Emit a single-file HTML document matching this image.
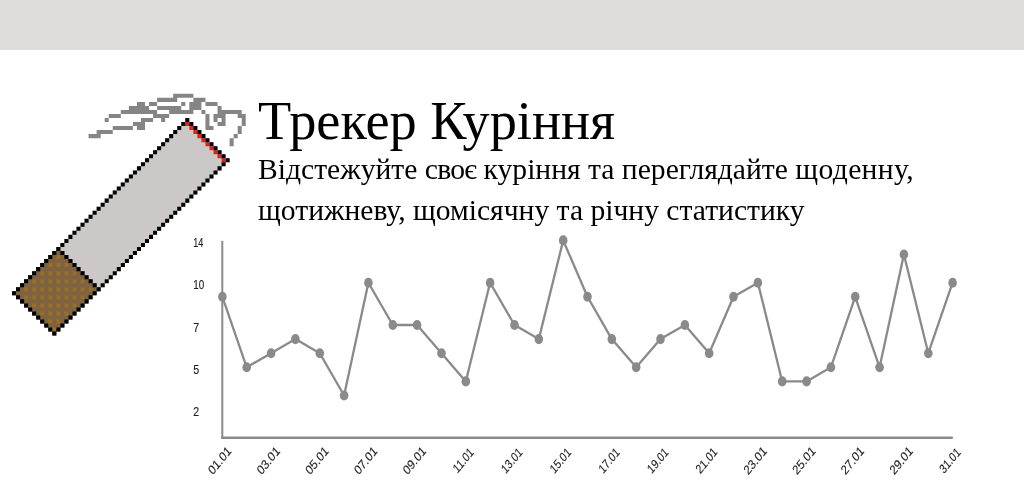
<!DOCTYPE html>
<html><head><meta charset="utf-8"><title>Трекер Куріння</title>
<style>
html,body{margin:0;padding:0;background:#fff;}
body{width:1024px;height:500px;position:relative;overflow:hidden;font-family:"Liberation Serif",serif;}
.banner{position:absolute;left:0;top:0;width:1024px;height:49.5px;background:#dddcda;}
.title,.sub{will-change:transform;}
.title{position:absolute;left:258px;top:91px;font-size:54.35px;line-height:60px;color:#000;white-space:nowrap;}
.sub{position:absolute;left:258px;top:148.9px;font-size:29.6px;line-height:40.5px;color:#000;white-space:nowrap;}
svg{position:absolute;left:0;top:0;will-change:transform;}
.lbl{font-family:"Liberation Sans",sans-serif;font-size:10.6px;fill:#222;stroke:#222;stroke-width:0.12px;}
</style></head><body>
<div class="banner"></div>
<svg width="1024" height="500" viewBox="0 0 1024 500">
<path fill="#858585" d="M173.20 93.82H193.35V97.85H173.20ZM157.08 97.85H177.23V101.88H157.08ZM193.35 97.85H205.44V101.88H193.35ZM136.93 101.88H144.99V105.91H136.93ZM149.02 101.88H157.08V105.91H149.02ZM181.26 101.88H185.29V105.91H181.26ZM189.32 101.88H201.41V105.91H189.32ZM205.44 101.88H217.53V105.91H205.44ZM128.87 105.91H149.02V109.94H128.87ZM157.08 105.91H181.26V109.94H157.08ZM189.32 105.91H201.41V109.94H189.32ZM217.53 105.91H221.56V109.94H217.53ZM120.81 109.94H157.08V113.97H120.81ZM169.17 109.94H193.35V113.97H169.17ZM201.41 109.94H205.44V113.97H201.41ZM217.53 109.94H241.71V113.97H217.53ZM108.72 113.97H120.81V118.00H108.72ZM153.05 113.97H169.17V118.00H153.05ZM205.44 113.97H209.47V118.00H205.44ZM213.50 113.97H225.59V118.00H213.50ZM237.68 113.97H245.74V118.00H237.68ZM104.69 118.00H108.72V122.03H104.69ZM140.96 118.00H153.05V122.03H140.96ZM161.11 118.00H165.14V122.03H161.11ZM205.44 118.00H209.47V122.03H205.44ZM213.50 118.00H217.53V122.03H213.50ZM221.56 118.00H225.59V122.03H221.56ZM241.71 118.00H245.74V122.03H241.71ZM132.90 122.03H144.99V126.06H132.90ZM205.44 122.03H209.47V126.06H205.44ZM217.53 122.03H225.59V126.06H217.53ZM241.71 122.03H245.74V126.06H241.71ZM112.75 126.06H132.90V130.09H112.75ZM136.93 126.06H144.99V130.09H136.93ZM205.44 126.06H213.50V130.09H205.44ZM237.68 126.06H241.71V130.09H237.68ZM96.63 130.09H112.75V134.12H96.63ZM237.68 130.09H241.71V134.12H237.68ZM88.57 134.12H100.66V138.15H88.57ZM233.65 134.12H237.68V138.15H233.65ZM229.62 138.15H233.65V142.18H229.62ZM229.62 142.18H233.65V146.21H229.62Z"/>
<path fill="#cdc8c8" d="M181.26 126.06H185.29V130.09H181.26ZM185.29 126.06H189.32V130.09H185.29ZM177.23 130.09H181.26V134.12H177.23ZM181.26 130.09H185.29V134.12H181.26ZM185.29 130.09H189.32V134.12H185.29ZM189.32 130.09H193.35V134.12H189.32ZM173.20 134.12H177.23V138.15H173.20ZM177.23 134.12H181.26V138.15H177.23ZM181.26 134.12H185.29V138.15H181.26ZM185.29 134.12H189.32V138.15H185.29ZM189.32 134.12H193.35V138.15H189.32ZM193.35 134.12H197.38V138.15H193.35ZM169.17 138.15H173.20V142.18H169.17ZM173.20 138.15H177.23V142.18H173.20ZM177.23 138.15H181.26V142.18H177.23ZM181.26 138.15H185.29V142.18H181.26ZM185.29 138.15H189.32V142.18H185.29ZM189.32 138.15H193.35V142.18H189.32ZM193.35 138.15H197.38V142.18H193.35ZM197.38 138.15H201.41V142.18H197.38ZM165.14 142.18H169.17V146.21H165.14ZM169.17 142.18H173.20V146.21H169.17ZM173.20 142.18H177.23V146.21H173.20ZM177.23 142.18H181.26V146.21H177.23ZM181.26 142.18H185.29V146.21H181.26ZM185.29 142.18H189.32V146.21H185.29ZM189.32 142.18H193.35V146.21H189.32ZM193.35 142.18H197.38V146.21H193.35ZM197.38 142.18H201.41V146.21H197.38ZM201.41 142.18H205.44V146.21H201.41ZM161.11 146.21H165.14V150.24H161.11ZM165.14 146.21H169.17V150.24H165.14ZM169.17 146.21H173.20V150.24H169.17ZM173.20 146.21H177.23V150.24H173.20ZM177.23 146.21H181.26V150.24H177.23ZM181.26 146.21H185.29V150.24H181.26ZM185.29 146.21H189.32V150.24H185.29ZM189.32 146.21H193.35V150.24H189.32ZM193.35 146.21H197.38V150.24H193.35ZM197.38 146.21H201.41V150.24H197.38ZM201.41 146.21H205.44V150.24H201.41ZM205.44 146.21H209.47V150.24H205.44ZM157.08 150.24H161.11V154.27H157.08ZM161.11 150.24H165.14V154.27H161.11ZM165.14 150.24H169.17V154.27H165.14ZM169.17 150.24H173.20V154.27H169.17ZM173.20 150.24H177.23V154.27H173.20ZM177.23 150.24H181.26V154.27H177.23ZM181.26 150.24H185.29V154.27H181.26ZM185.29 150.24H189.32V154.27H185.29ZM189.32 150.24H193.35V154.27H189.32ZM193.35 150.24H197.38V154.27H193.35ZM197.38 150.24H201.41V154.27H197.38ZM201.41 150.24H205.44V154.27H201.41ZM205.44 150.24H209.47V154.27H205.44ZM209.47 150.24H213.50V154.27H209.47ZM153.05 154.27H157.08V158.30H153.05ZM157.08 154.27H161.11V158.30H157.08ZM161.11 154.27H165.14V158.30H161.11ZM165.14 154.27H169.17V158.30H165.14ZM169.17 154.27H173.20V158.30H169.17ZM173.20 154.27H177.23V158.30H173.20ZM177.23 154.27H181.26V158.30H177.23ZM181.26 154.27H185.29V158.30H181.26ZM185.29 154.27H189.32V158.30H185.29ZM189.32 154.27H193.35V158.30H189.32ZM193.35 154.27H197.38V158.30H193.35ZM197.38 154.27H201.41V158.30H197.38ZM201.41 154.27H205.44V158.30H201.41ZM205.44 154.27H209.47V158.30H205.44ZM209.47 154.27H213.50V158.30H209.47ZM213.50 154.27H217.53V158.30H213.50ZM149.02 158.30H153.05V162.33H149.02ZM153.05 158.30H157.08V162.33H153.05ZM157.08 158.30H161.11V162.33H157.08ZM161.11 158.30H165.14V162.33H161.11ZM165.14 158.30H169.17V162.33H165.14ZM169.17 158.30H173.20V162.33H169.17ZM173.20 158.30H177.23V162.33H173.20ZM177.23 158.30H181.26V162.33H177.23ZM181.26 158.30H185.29V162.33H181.26ZM185.29 158.30H189.32V162.33H185.29ZM189.32 158.30H193.35V162.33H189.32ZM193.35 158.30H197.38V162.33H193.35ZM197.38 158.30H201.41V162.33H197.38ZM201.41 158.30H205.44V162.33H201.41ZM205.44 158.30H209.47V162.33H205.44ZM209.47 158.30H213.50V162.33H209.47ZM213.50 158.30H217.53V162.33H213.50ZM217.53 158.30H221.56V162.33H217.53ZM144.99 162.33H149.02V166.36H144.99ZM149.02 162.33H153.05V166.36H149.02ZM153.05 162.33H157.08V166.36H153.05ZM157.08 162.33H161.11V166.36H157.08ZM161.11 162.33H165.14V166.36H161.11ZM165.14 162.33H169.17V166.36H165.14ZM169.17 162.33H173.20V166.36H169.17ZM173.20 162.33H177.23V166.36H173.20ZM177.23 162.33H181.26V166.36H177.23ZM181.26 162.33H185.29V166.36H181.26ZM185.29 162.33H189.32V166.36H185.29ZM189.32 162.33H193.35V166.36H189.32ZM193.35 162.33H197.38V166.36H193.35ZM197.38 162.33H201.41V166.36H197.38ZM201.41 162.33H205.44V166.36H201.41ZM205.44 162.33H209.47V166.36H205.44ZM209.47 162.33H213.50V166.36H209.47ZM213.50 162.33H217.53V166.36H213.50ZM217.53 162.33H221.56V166.36H217.53ZM140.96 166.36H144.99V170.39H140.96ZM144.99 166.36H149.02V170.39H144.99ZM149.02 166.36H153.05V170.39H149.02ZM153.05 166.36H157.08V170.39H153.05ZM157.08 166.36H161.11V170.39H157.08ZM161.11 166.36H165.14V170.39H161.11ZM165.14 166.36H169.17V170.39H165.14ZM169.17 166.36H173.20V170.39H169.17ZM173.20 166.36H177.23V170.39H173.20ZM177.23 166.36H181.26V170.39H177.23ZM181.26 166.36H185.29V170.39H181.26ZM185.29 166.36H189.32V170.39H185.29ZM189.32 166.36H193.35V170.39H189.32ZM193.35 166.36H197.38V170.39H193.35ZM197.38 166.36H201.41V170.39H197.38ZM201.41 166.36H205.44V170.39H201.41ZM205.44 166.36H209.47V170.39H205.44ZM209.47 166.36H213.50V170.39H209.47ZM213.50 166.36H217.53V170.39H213.50ZM136.93 170.39H140.96V174.42H136.93ZM140.96 170.39H144.99V174.42H140.96ZM144.99 170.39H149.02V174.42H144.99ZM149.02 170.39H153.05V174.42H149.02ZM153.05 170.39H157.08V174.42H153.05ZM157.08 170.39H161.11V174.42H157.08ZM161.11 170.39H165.14V174.42H161.11ZM165.14 170.39H169.17V174.42H165.14ZM169.17 170.39H173.20V174.42H169.17ZM173.20 170.39H177.23V174.42H173.20ZM177.23 170.39H181.26V174.42H177.23ZM181.26 170.39H185.29V174.42H181.26ZM185.29 170.39H189.32V174.42H185.29ZM189.32 170.39H193.35V174.42H189.32ZM193.35 170.39H197.38V174.42H193.35ZM197.38 170.39H201.41V174.42H197.38ZM201.41 170.39H205.44V174.42H201.41ZM205.44 170.39H209.47V174.42H205.44ZM209.47 170.39H213.50V174.42H209.47ZM132.90 174.42H136.93V178.45H132.90ZM136.93 174.42H140.96V178.45H136.93ZM140.96 174.42H144.99V178.45H140.96ZM144.99 174.42H149.02V178.45H144.99ZM149.02 174.42H153.05V178.45H149.02ZM153.05 174.42H157.08V178.45H153.05ZM157.08 174.42H161.11V178.45H157.08ZM161.11 174.42H165.14V178.45H161.11ZM165.14 174.42H169.17V178.45H165.14ZM169.17 174.42H173.20V178.45H169.17ZM173.20 174.42H177.23V178.45H173.20ZM177.23 174.42H181.26V178.45H177.23ZM181.26 174.42H185.29V178.45H181.26ZM185.29 174.42H189.32V178.45H185.29ZM189.32 174.42H193.35V178.45H189.32ZM193.35 174.42H197.38V178.45H193.35ZM197.38 174.42H201.41V178.45H197.38ZM201.41 174.42H205.44V178.45H201.41ZM205.44 174.42H209.47V178.45H205.44ZM128.87 178.45H132.90V182.48H128.87ZM132.90 178.45H136.93V182.48H132.90ZM136.93 178.45H140.96V182.48H136.93ZM140.96 178.45H144.99V182.48H140.96ZM144.99 178.45H149.02V182.48H144.99ZM149.02 178.45H153.05V182.48H149.02ZM153.05 178.45H157.08V182.48H153.05ZM157.08 178.45H161.11V182.48H157.08ZM161.11 178.45H165.14V182.48H161.11ZM165.14 178.45H169.17V182.48H165.14ZM169.17 178.45H173.20V182.48H169.17ZM173.20 178.45H177.23V182.48H173.20ZM177.23 178.45H181.26V182.48H177.23ZM181.26 178.45H185.29V182.48H181.26ZM185.29 178.45H189.32V182.48H185.29ZM189.32 178.45H193.35V182.48H189.32ZM193.35 178.45H197.38V182.48H193.35ZM197.38 178.45H201.41V182.48H197.38ZM201.41 178.45H205.44V182.48H201.41ZM124.84 182.48H128.87V186.51H124.84ZM128.87 182.48H132.90V186.51H128.87ZM132.90 182.48H136.93V186.51H132.90ZM136.93 182.48H140.96V186.51H136.93ZM140.96 182.48H144.99V186.51H140.96ZM144.99 182.48H149.02V186.51H144.99ZM149.02 182.48H153.05V186.51H149.02ZM153.05 182.48H157.08V186.51H153.05ZM157.08 182.48H161.11V186.51H157.08ZM161.11 182.48H165.14V186.51H161.11ZM165.14 182.48H169.17V186.51H165.14ZM169.17 182.48H173.20V186.51H169.17ZM173.20 182.48H177.23V186.51H173.20ZM177.23 182.48H181.26V186.51H177.23ZM181.26 182.48H185.29V186.51H181.26ZM185.29 182.48H189.32V186.51H185.29ZM189.32 182.48H193.35V186.51H189.32ZM193.35 182.48H197.38V186.51H193.35ZM197.38 182.48H201.41V186.51H197.38ZM120.81 186.51H124.84V190.54H120.81ZM124.84 186.51H128.87V190.54H124.84ZM128.87 186.51H132.90V190.54H128.87ZM132.90 186.51H136.93V190.54H132.90ZM136.93 186.51H140.96V190.54H136.93ZM140.96 186.51H144.99V190.54H140.96ZM144.99 186.51H149.02V190.54H144.99ZM149.02 186.51H153.05V190.54H149.02ZM153.05 186.51H157.08V190.54H153.05ZM157.08 186.51H161.11V190.54H157.08ZM161.11 186.51H165.14V190.54H161.11ZM165.14 186.51H169.17V190.54H165.14ZM169.17 186.51H173.20V190.54H169.17ZM173.20 186.51H177.23V190.54H173.20ZM177.23 186.51H181.26V190.54H177.23ZM181.26 186.51H185.29V190.54H181.26ZM185.29 186.51H189.32V190.54H185.29ZM189.32 186.51H193.35V190.54H189.32ZM193.35 186.51H197.38V190.54H193.35ZM116.78 190.54H120.81V194.57H116.78ZM120.81 190.54H124.84V194.57H120.81ZM124.84 190.54H128.87V194.57H124.84ZM128.87 190.54H132.90V194.57H128.87ZM132.90 190.54H136.93V194.57H132.90ZM136.93 190.54H140.96V194.57H136.93ZM140.96 190.54H144.99V194.57H140.96ZM144.99 190.54H149.02V194.57H144.99ZM149.02 190.54H153.05V194.57H149.02ZM153.05 190.54H157.08V194.57H153.05ZM157.08 190.54H161.11V194.57H157.08ZM161.11 190.54H165.14V194.57H161.11ZM165.14 190.54H169.17V194.57H165.14ZM169.17 190.54H173.20V194.57H169.17ZM173.20 190.54H177.23V194.57H173.20ZM177.23 190.54H181.26V194.57H177.23ZM181.26 190.54H185.29V194.57H181.26ZM185.29 190.54H189.32V194.57H185.29ZM189.32 190.54H193.35V194.57H189.32ZM112.75 194.57H116.78V198.60H112.75ZM116.78 194.57H120.81V198.60H116.78ZM120.81 194.57H124.84V198.60H120.81ZM124.84 194.57H128.87V198.60H124.84ZM128.87 194.57H132.90V198.60H128.87ZM132.90 194.57H136.93V198.60H132.90ZM136.93 194.57H140.96V198.60H136.93ZM140.96 194.57H144.99V198.60H140.96ZM144.99 194.57H149.02V198.60H144.99ZM149.02 194.57H153.05V198.60H149.02ZM153.05 194.57H157.08V198.60H153.05ZM157.08 194.57H161.11V198.60H157.08ZM161.11 194.57H165.14V198.60H161.11ZM165.14 194.57H169.17V198.60H165.14ZM169.17 194.57H173.20V198.60H169.17ZM173.20 194.57H177.23V198.60H173.20ZM177.23 194.57H181.26V198.60H177.23ZM181.26 194.57H185.29V198.60H181.26ZM185.29 194.57H189.32V198.60H185.29ZM108.72 198.60H112.75V202.63H108.72ZM112.75 198.60H116.78V202.63H112.75ZM116.78 198.60H120.81V202.63H116.78ZM120.81 198.60H124.84V202.63H120.81ZM124.84 198.60H128.87V202.63H124.84ZM128.87 198.60H132.90V202.63H128.87ZM132.90 198.60H136.93V202.63H132.90ZM136.93 198.60H140.96V202.63H136.93ZM140.96 198.60H144.99V202.63H140.96ZM144.99 198.60H149.02V202.63H144.99ZM149.02 198.60H153.05V202.63H149.02ZM153.05 198.60H157.08V202.63H153.05ZM157.08 198.60H161.11V202.63H157.08ZM161.11 198.60H165.14V202.63H161.11ZM165.14 198.60H169.17V202.63H165.14ZM169.17 198.60H173.20V202.63H169.17ZM173.20 198.60H177.23V202.63H173.20ZM177.23 198.60H181.26V202.63H177.23ZM181.26 198.60H185.29V202.63H181.26ZM104.69 202.63H108.72V206.66H104.69ZM108.72 202.63H112.75V206.66H108.72ZM112.75 202.63H116.78V206.66H112.75ZM116.78 202.63H120.81V206.66H116.78ZM120.81 202.63H124.84V206.66H120.81ZM124.84 202.63H128.87V206.66H124.84ZM128.87 202.63H132.90V206.66H128.87ZM132.90 202.63H136.93V206.66H132.90ZM136.93 202.63H140.96V206.66H136.93ZM140.96 202.63H144.99V206.66H140.96ZM144.99 202.63H149.02V206.66H144.99ZM149.02 202.63H153.05V206.66H149.02ZM153.05 202.63H157.08V206.66H153.05ZM157.08 202.63H161.11V206.66H157.08ZM161.11 202.63H165.14V206.66H161.11ZM165.14 202.63H169.17V206.66H165.14ZM169.17 202.63H173.20V206.66H169.17ZM173.20 202.63H177.23V206.66H173.20ZM177.23 202.63H181.26V206.66H177.23ZM100.66 206.66H104.69V210.69H100.66ZM104.69 206.66H108.72V210.69H104.69ZM108.72 206.66H112.75V210.69H108.72ZM112.75 206.66H116.78V210.69H112.75ZM116.78 206.66H120.81V210.69H116.78ZM120.81 206.66H124.84V210.69H120.81ZM124.84 206.66H128.87V210.69H124.84ZM128.87 206.66H132.90V210.69H128.87ZM132.90 206.66H136.93V210.69H132.90ZM136.93 206.66H140.96V210.69H136.93ZM140.96 206.66H144.99V210.69H140.96ZM144.99 206.66H149.02V210.69H144.99ZM149.02 206.66H153.05V210.69H149.02ZM153.05 206.66H157.08V210.69H153.05ZM157.08 206.66H161.11V210.69H157.08ZM161.11 206.66H165.14V210.69H161.11ZM165.14 206.66H169.17V210.69H165.14ZM169.17 206.66H173.20V210.69H169.17ZM173.20 206.66H177.23V210.69H173.20ZM96.63 210.69H100.66V214.72H96.63ZM100.66 210.69H104.69V214.72H100.66ZM104.69 210.69H108.72V214.72H104.69ZM108.72 210.69H112.75V214.72H108.72ZM112.75 210.69H116.78V214.72H112.75ZM116.78 210.69H120.81V214.72H116.78ZM120.81 210.69H124.84V214.72H120.81ZM124.84 210.69H128.87V214.72H124.84ZM128.87 210.69H132.90V214.72H128.87ZM132.90 210.69H136.93V214.72H132.90ZM136.93 210.69H140.96V214.72H136.93ZM140.96 210.69H144.99V214.72H140.96ZM144.99 210.69H149.02V214.72H144.99ZM149.02 210.69H153.05V214.72H149.02ZM153.05 210.69H157.08V214.72H153.05ZM157.08 210.69H161.11V214.72H157.08ZM161.11 210.69H165.14V214.72H161.11ZM165.14 210.69H169.17V214.72H165.14ZM169.17 210.69H173.20V214.72H169.17ZM92.60 214.72H96.63V218.75H92.60ZM96.63 214.72H100.66V218.75H96.63ZM100.66 214.72H104.69V218.75H100.66ZM104.69 214.72H108.72V218.75H104.69ZM108.72 214.72H112.75V218.75H108.72ZM112.75 214.72H116.78V218.75H112.75ZM116.78 214.72H120.81V218.75H116.78ZM120.81 214.72H124.84V218.75H120.81ZM124.84 214.72H128.87V218.75H124.84ZM128.87 214.72H132.90V218.75H128.87ZM132.90 214.72H136.93V218.75H132.90ZM136.93 214.72H140.96V218.75H136.93ZM140.96 214.72H144.99V218.75H140.96ZM144.99 214.72H149.02V218.75H144.99ZM149.02 214.72H153.05V218.75H149.02ZM153.05 214.72H157.08V218.75H153.05ZM157.08 214.72H161.11V218.75H157.08ZM161.11 214.72H165.14V218.75H161.11ZM165.14 214.72H169.17V218.75H165.14ZM88.57 218.75H92.60V222.78H88.57ZM92.60 218.75H96.63V222.78H92.60ZM96.63 218.75H100.66V222.78H96.63ZM100.66 218.75H104.69V222.78H100.66ZM104.69 218.75H108.72V222.78H104.69ZM108.72 218.75H112.75V222.78H108.72ZM112.75 218.75H116.78V222.78H112.75ZM116.78 218.75H120.81V222.78H116.78ZM120.81 218.75H124.84V222.78H120.81ZM124.84 218.75H128.87V222.78H124.84ZM128.87 218.75H132.90V222.78H128.87ZM132.90 218.75H136.93V222.78H132.90ZM136.93 218.75H140.96V222.78H136.93ZM140.96 218.75H144.99V222.78H140.96ZM144.99 218.75H149.02V222.78H144.99ZM149.02 218.75H153.05V222.78H149.02ZM153.05 218.75H157.08V222.78H153.05ZM157.08 218.75H161.11V222.78H157.08ZM161.11 218.75H165.14V222.78H161.11ZM84.54 222.78H88.57V226.81H84.54ZM88.57 222.78H92.60V226.81H88.57ZM92.60 222.78H96.63V226.81H92.60ZM96.63 222.78H100.66V226.81H96.63ZM100.66 222.78H104.69V226.81H100.66ZM104.69 222.78H108.72V226.81H104.69ZM108.72 222.78H112.75V226.81H108.72ZM112.75 222.78H116.78V226.81H112.75ZM116.78 222.78H120.81V226.81H116.78ZM120.81 222.78H124.84V226.81H120.81ZM124.84 222.78H128.87V226.81H124.84ZM128.87 222.78H132.90V226.81H128.87ZM132.90 222.78H136.93V226.81H132.90ZM136.93 222.78H140.96V226.81H136.93ZM140.96 222.78H144.99V226.81H140.96ZM144.99 222.78H149.02V226.81H144.99ZM149.02 222.78H153.05V226.81H149.02ZM153.05 222.78H157.08V226.81H153.05ZM157.08 222.78H161.11V226.81H157.08ZM80.51 226.81H84.54V230.84H80.51ZM84.54 226.81H88.57V230.84H84.54ZM88.57 226.81H92.60V230.84H88.57ZM92.60 226.81H96.63V230.84H92.60ZM96.63 226.81H100.66V230.84H96.63ZM100.66 226.81H104.69V230.84H100.66ZM104.69 226.81H108.72V230.84H104.69ZM108.72 226.81H112.75V230.84H108.72ZM112.75 226.81H116.78V230.84H112.75ZM116.78 226.81H120.81V230.84H116.78ZM120.81 226.81H124.84V230.84H120.81ZM124.84 226.81H128.87V230.84H124.84ZM128.87 226.81H132.90V230.84H128.87ZM132.90 226.81H136.93V230.84H132.90ZM136.93 226.81H140.96V230.84H136.93ZM140.96 226.81H144.99V230.84H140.96ZM144.99 226.81H149.02V230.84H144.99ZM149.02 226.81H153.05V230.84H149.02ZM153.05 226.81H157.08V230.84H153.05ZM76.48 230.84H80.51V234.87H76.48ZM80.51 230.84H84.54V234.87H80.51ZM84.54 230.84H88.57V234.87H84.54ZM88.57 230.84H92.60V234.87H88.57ZM92.60 230.84H96.63V234.87H92.60ZM96.63 230.84H100.66V234.87H96.63ZM100.66 230.84H104.69V234.87H100.66ZM104.69 230.84H108.72V234.87H104.69ZM108.72 230.84H112.75V234.87H108.72ZM112.75 230.84H116.78V234.87H112.75ZM116.78 230.84H120.81V234.87H116.78ZM120.81 230.84H124.84V234.87H120.81ZM124.84 230.84H128.87V234.87H124.84ZM128.87 230.84H132.90V234.87H128.87ZM132.90 230.84H136.93V234.87H132.90ZM136.93 230.84H140.96V234.87H136.93ZM140.96 230.84H144.99V234.87H140.96ZM144.99 230.84H149.02V234.87H144.99ZM149.02 230.84H153.05V234.87H149.02ZM72.45 234.87H76.48V238.90H72.45ZM76.48 234.87H80.51V238.90H76.48ZM80.51 234.87H84.54V238.90H80.51ZM84.54 234.87H88.57V238.90H84.54ZM88.57 234.87H92.60V238.90H88.57ZM92.60 234.87H96.63V238.90H92.60ZM96.63 234.87H100.66V238.90H96.63ZM100.66 234.87H104.69V238.90H100.66ZM104.69 234.87H108.72V238.90H104.69ZM108.72 234.87H112.75V238.90H108.72ZM112.75 234.87H116.78V238.90H112.75ZM116.78 234.87H120.81V238.90H116.78ZM120.81 234.87H124.84V238.90H120.81ZM124.84 234.87H128.87V238.90H124.84ZM128.87 234.87H132.90V238.90H128.87ZM132.90 234.87H136.93V238.90H132.90ZM136.93 234.87H140.96V238.90H136.93ZM140.96 234.87H144.99V238.90H140.96ZM144.99 234.87H149.02V238.90H144.99ZM68.42 238.90H72.45V242.93H68.42ZM72.45 238.90H76.48V242.93H72.45ZM76.48 238.90H80.51V242.93H76.48ZM80.51 238.90H84.54V242.93H80.51ZM84.54 238.90H88.57V242.93H84.54ZM88.57 238.90H92.60V242.93H88.57ZM92.60 238.90H96.63V242.93H92.60ZM96.63 238.90H100.66V242.93H96.63ZM100.66 238.90H104.69V242.93H100.66ZM104.69 238.90H108.72V242.93H104.69ZM108.72 238.90H112.75V242.93H108.72ZM112.75 238.90H116.78V242.93H112.75ZM116.78 238.90H120.81V242.93H116.78ZM120.81 238.90H124.84V242.93H120.81ZM124.84 238.90H128.87V242.93H124.84ZM128.87 238.90H132.90V242.93H128.87ZM132.90 238.90H136.93V242.93H132.90ZM136.93 238.90H140.96V242.93H136.93ZM140.96 238.90H144.99V242.93H140.96ZM64.39 242.93H68.42V246.96H64.39ZM68.42 242.93H72.45V246.96H68.42ZM72.45 242.93H76.48V246.96H72.45ZM76.48 242.93H80.51V246.96H76.48ZM80.51 242.93H84.54V246.96H80.51ZM84.54 242.93H88.57V246.96H84.54ZM88.57 242.93H92.60V246.96H88.57ZM92.60 242.93H96.63V246.96H92.60ZM96.63 242.93H100.66V246.96H96.63ZM100.66 242.93H104.69V246.96H100.66ZM104.69 242.93H108.72V246.96H104.69ZM108.72 242.93H112.75V246.96H108.72ZM112.75 242.93H116.78V246.96H112.75ZM116.78 242.93H120.81V246.96H116.78ZM120.81 242.93H124.84V246.96H120.81ZM124.84 242.93H128.87V246.96H124.84ZM128.87 242.93H132.90V246.96H128.87ZM132.90 242.93H136.93V246.96H132.90ZM136.93 242.93H140.96V246.96H136.93ZM60.36 246.96H64.39V250.99H60.36ZM64.39 246.96H68.42V250.99H64.39ZM68.42 246.96H72.45V250.99H68.42ZM72.45 246.96H76.48V250.99H72.45ZM76.48 246.96H80.51V250.99H76.48ZM80.51 246.96H84.54V250.99H80.51ZM84.54 246.96H88.57V250.99H84.54ZM88.57 246.96H92.60V250.99H88.57ZM92.60 246.96H96.63V250.99H92.60ZM96.63 246.96H100.66V250.99H96.63ZM100.66 246.96H104.69V250.99H100.66ZM104.69 246.96H108.72V250.99H104.69ZM108.72 246.96H112.75V250.99H108.72ZM112.75 246.96H116.78V250.99H112.75ZM116.78 246.96H120.81V250.99H116.78ZM120.81 246.96H124.84V250.99H120.81ZM124.84 246.96H128.87V250.99H124.84ZM128.87 246.96H132.90V250.99H128.87ZM132.90 246.96H136.93V250.99H132.90ZM64.39 250.99H68.42V255.02H64.39ZM68.42 250.99H72.45V255.02H68.42ZM72.45 250.99H76.48V255.02H72.45ZM76.48 250.99H80.51V255.02H76.48ZM80.51 250.99H84.54V255.02H80.51ZM84.54 250.99H88.57V255.02H84.54ZM88.57 250.99H92.60V255.02H88.57ZM92.60 250.99H96.63V255.02H92.60ZM96.63 250.99H100.66V255.02H96.63ZM100.66 250.99H104.69V255.02H100.66ZM104.69 250.99H108.72V255.02H104.69ZM108.72 250.99H112.75V255.02H108.72ZM112.75 250.99H116.78V255.02H112.75ZM116.78 250.99H120.81V255.02H116.78ZM120.81 250.99H124.84V255.02H120.81ZM124.84 250.99H128.87V255.02H124.84ZM128.87 250.99H132.90V255.02H128.87ZM68.42 255.02H72.45V259.05H68.42ZM72.45 255.02H76.48V259.05H72.45ZM76.48 255.02H80.51V259.05H76.48ZM80.51 255.02H84.54V259.05H80.51ZM84.54 255.02H88.57V259.05H84.54ZM88.57 255.02H92.60V259.05H88.57ZM92.60 255.02H96.63V259.05H92.60ZM96.63 255.02H100.66V259.05H96.63ZM100.66 255.02H104.69V259.05H100.66ZM104.69 255.02H108.72V259.05H104.69ZM108.72 255.02H112.75V259.05H108.72ZM112.75 255.02H116.78V259.05H112.75ZM116.78 255.02H120.81V259.05H116.78ZM120.81 255.02H124.84V259.05H120.81ZM124.84 255.02H128.87V259.05H124.84ZM72.45 259.05H76.48V263.08H72.45ZM76.48 259.05H80.51V263.08H76.48ZM80.51 259.05H84.54V263.08H80.51ZM84.54 259.05H88.57V263.08H84.54ZM88.57 259.05H92.60V263.08H88.57ZM92.60 259.05H96.63V263.08H92.60ZM96.63 259.05H100.66V263.08H96.63ZM100.66 259.05H104.69V263.08H100.66ZM104.69 259.05H108.72V263.08H104.69ZM108.72 259.05H112.75V263.08H108.72ZM112.75 259.05H116.78V263.08H112.75ZM116.78 259.05H120.81V263.08H116.78ZM120.81 259.05H124.84V263.08H120.81ZM76.48 263.08H80.51V267.11H76.48ZM80.51 263.08H84.54V267.11H80.51ZM84.54 263.08H88.57V267.11H84.54ZM88.57 263.08H92.60V267.11H88.57ZM92.60 263.08H96.63V267.11H92.60ZM96.63 263.08H100.66V267.11H96.63ZM100.66 263.08H104.69V267.11H100.66ZM104.69 263.08H108.72V267.11H104.69ZM108.72 263.08H112.75V267.11H108.72ZM112.75 263.08H116.78V267.11H112.75ZM116.78 263.08H120.81V267.11H116.78ZM80.51 267.11H84.54V271.14H80.51ZM84.54 267.11H88.57V271.14H84.54ZM88.57 267.11H92.60V271.14H88.57ZM92.60 267.11H96.63V271.14H92.60ZM96.63 267.11H100.66V271.14H96.63ZM100.66 267.11H104.69V271.14H100.66ZM104.69 267.11H108.72V271.14H104.69ZM108.72 267.11H112.75V271.14H108.72ZM112.75 267.11H116.78V271.14H112.75ZM84.54 271.14H88.57V275.17H84.54ZM88.57 271.14H92.60V275.17H88.57ZM92.60 271.14H96.63V275.17H92.60ZM96.63 271.14H100.66V275.17H96.63ZM100.66 271.14H104.69V275.17H100.66ZM104.69 271.14H108.72V275.17H104.69ZM108.72 271.14H112.75V275.17H108.72ZM88.57 275.17H92.60V279.20H88.57ZM92.60 275.17H96.63V279.20H92.60ZM96.63 275.17H100.66V279.20H96.63ZM100.66 275.17H104.69V279.20H100.66ZM104.69 275.17H108.72V279.20H104.69ZM92.60 279.20H96.63V283.23H92.60ZM96.63 279.20H100.66V283.23H96.63ZM100.66 279.20H104.69V283.23H100.66ZM96.63 283.23H100.66V287.26H96.63ZM185.29 122.03H189.32V126.06H185.29ZM189.32 126.06H193.35V130.09H189.32ZM193.35 130.09H197.38V134.12H193.35ZM197.38 134.12H201.41V138.15H197.38ZM201.41 138.15H205.44V142.18H201.41ZM205.44 142.18H209.47V146.21H205.44ZM209.47 146.21H213.50V150.24H209.47ZM213.50 150.24H217.53V154.27H213.50ZM217.53 154.27H221.56V158.30H217.53ZM221.56 158.30H225.59V162.33H221.56ZM185.29 118.00H189.32V122.03H185.29ZM181.26 122.03H185.29V126.06H181.26ZM189.32 122.03H193.35V126.06H189.32ZM177.23 126.06H181.26V130.09H177.23ZM193.35 126.06H197.38V130.09H193.35ZM173.20 130.09H177.23V134.12H173.20ZM197.38 130.09H201.41V134.12H197.38ZM169.17 134.12H173.20V138.15H169.17ZM201.41 134.12H205.44V138.15H201.41ZM165.14 138.15H169.17V142.18H165.14ZM205.44 138.15H209.47V142.18H205.44ZM161.11 142.18H165.14V146.21H161.11ZM209.47 142.18H213.50V146.21H209.47ZM157.08 146.21H161.11V150.24H157.08ZM213.50 146.21H217.53V150.24H213.50ZM153.05 150.24H157.08V154.27H153.05ZM217.53 150.24H221.56V154.27H217.53ZM149.02 154.27H153.05V158.30H149.02ZM221.56 154.27H225.59V158.30H221.56ZM144.99 158.30H149.02V162.33H144.99ZM225.59 158.30H229.62V162.33H225.59ZM140.96 162.33H144.99V166.36H140.96ZM221.56 162.33H225.59V166.36H221.56ZM136.93 166.36H140.96V170.39H136.93ZM217.53 166.36H221.56V170.39H217.53ZM132.90 170.39H136.93V174.42H132.90ZM213.50 170.39H217.53V174.42H213.50ZM128.87 174.42H132.90V178.45H128.87ZM209.47 174.42H213.50V178.45H209.47ZM124.84 178.45H128.87V182.48H124.84ZM205.44 178.45H209.47V182.48H205.44ZM120.81 182.48H124.84V186.51H120.81ZM201.41 182.48H205.44V186.51H201.41ZM116.78 186.51H120.81V190.54H116.78ZM197.38 186.51H201.41V190.54H197.38ZM112.75 190.54H116.78V194.57H112.75ZM193.35 190.54H197.38V194.57H193.35ZM108.72 194.57H112.75V198.60H108.72ZM189.32 194.57H193.35V198.60H189.32ZM104.69 198.60H108.72V202.63H104.69ZM185.29 198.60H189.32V202.63H185.29ZM100.66 202.63H104.69V206.66H100.66ZM181.26 202.63H185.29V206.66H181.26ZM96.63 206.66H100.66V210.69H96.63ZM177.23 206.66H181.26V210.69H177.23ZM92.60 210.69H96.63V214.72H92.60ZM173.20 210.69H177.23V214.72H173.20ZM88.57 214.72H92.60V218.75H88.57ZM169.17 214.72H173.20V218.75H169.17ZM84.54 218.75H88.57V222.78H84.54ZM165.14 218.75H169.17V222.78H165.14ZM80.51 222.78H84.54V226.81H80.51ZM161.11 222.78H165.14V226.81H161.11ZM76.48 226.81H80.51V230.84H76.48ZM157.08 226.81H161.11V230.84H157.08ZM72.45 230.84H76.48V234.87H72.45ZM153.05 230.84H157.08V234.87H153.05ZM68.42 234.87H72.45V238.90H68.42ZM149.02 234.87H153.05V238.90H149.02ZM64.39 238.90H68.42V242.93H64.39ZM144.99 238.90H149.02V242.93H144.99ZM60.36 242.93H64.39V246.96H60.36ZM140.96 242.93H144.99V246.96H140.96ZM56.33 246.96H60.36V250.99H56.33ZM136.93 246.96H140.96V250.99H136.93ZM52.30 250.99H56.33V255.02H52.30ZM60.36 250.99H64.39V255.02H60.36ZM132.90 250.99H136.93V255.02H132.90ZM48.27 255.02H52.30V259.05H48.27ZM64.39 255.02H68.42V259.05H64.39ZM128.87 255.02H132.90V259.05H128.87ZM44.24 259.05H48.27V263.08H44.24ZM68.42 259.05H72.45V263.08H68.42ZM124.84 259.05H128.87V263.08H124.84ZM40.21 263.08H44.24V267.11H40.21ZM72.45 263.08H76.48V267.11H72.45ZM120.81 263.08H124.84V267.11H120.81ZM36.18 267.11H40.21V271.14H36.18ZM76.48 267.11H80.51V271.14H76.48ZM116.78 267.11H120.81V271.14H116.78ZM32.15 271.14H36.18V275.17H32.15ZM80.51 271.14H84.54V275.17H80.51ZM112.75 271.14H116.78V275.17H112.75ZM28.12 275.17H32.15V279.20H28.12ZM84.54 275.17H88.57V279.20H84.54ZM108.72 275.17H112.75V279.20H108.72ZM24.09 279.20H28.12V283.23H24.09ZM88.57 279.20H92.60V283.23H88.57ZM104.69 279.20H108.72V283.23H104.69ZM20.06 283.23H24.09V287.26H20.06ZM92.60 283.23H96.63V287.26H92.60ZM100.66 283.23H104.69V287.26H100.66ZM16.03 287.26H20.06V291.29H16.03ZM96.63 287.26H100.66V291.29H96.63ZM12.00 291.29H16.03V295.32H12.00ZM92.60 291.29H96.63V295.32H92.60ZM16.03 295.32H20.06V299.35H16.03ZM88.57 295.32H92.60V299.35H88.57ZM20.06 299.35H24.09V303.38H20.06ZM84.54 299.35H88.57V303.38H84.54ZM24.09 303.38H28.12V307.41H24.09ZM80.51 303.38H84.54V307.41H80.51ZM28.12 307.41H32.15V311.44H28.12ZM76.48 307.41H80.51V311.44H76.48ZM32.15 311.44H36.18V315.47H32.15ZM72.45 311.44H76.48V315.47H72.45ZM36.18 315.47H40.21V319.50H36.18ZM68.42 315.47H72.45V319.50H68.42ZM40.21 319.50H44.24V323.53H40.21ZM64.39 319.50H68.42V323.53H64.39ZM44.24 323.53H48.27V327.56H44.24ZM60.36 323.53H64.39V327.56H60.36ZM48.27 327.56H52.30V331.59H48.27ZM56.33 327.56H60.36V331.59H56.33ZM52.30 331.59H56.33V335.62H52.30Z"/>
<path fill="#7e6340" d="M56.33 250.99H60.36V255.02H56.33ZM52.30 255.02H56.33V259.05H52.30ZM60.36 255.02H64.39V259.05H60.36ZM48.27 259.05H52.30V263.08H48.27ZM52.30 259.05H56.33V263.08H52.30ZM56.33 259.05H60.36V263.08H56.33ZM60.36 259.05H64.39V263.08H60.36ZM64.39 259.05H68.42V263.08H64.39ZM44.24 263.08H48.27V267.11H44.24ZM52.30 263.08H56.33V267.11H52.30ZM60.36 263.08H64.39V267.11H60.36ZM68.42 263.08H72.45V267.11H68.42ZM40.21 267.11H44.24V271.14H40.21ZM44.24 267.11H48.27V271.14H44.24ZM48.27 267.11H52.30V271.14H48.27ZM52.30 267.11H56.33V271.14H52.30ZM56.33 267.11H60.36V271.14H56.33ZM60.36 267.11H64.39V271.14H60.36ZM64.39 267.11H68.42V271.14H64.39ZM68.42 267.11H72.45V271.14H68.42ZM72.45 267.11H76.48V271.14H72.45ZM36.18 271.14H40.21V275.17H36.18ZM44.24 271.14H48.27V275.17H44.24ZM52.30 271.14H56.33V275.17H52.30ZM60.36 271.14H64.39V275.17H60.36ZM68.42 271.14H72.45V275.17H68.42ZM76.48 271.14H80.51V275.17H76.48ZM32.15 275.17H36.18V279.20H32.15ZM36.18 275.17H40.21V279.20H36.18ZM40.21 275.17H44.24V279.20H40.21ZM44.24 275.17H48.27V279.20H44.24ZM48.27 275.17H52.30V279.20H48.27ZM52.30 275.17H56.33V279.20H52.30ZM56.33 275.17H60.36V279.20H56.33ZM60.36 275.17H64.39V279.20H60.36ZM64.39 275.17H68.42V279.20H64.39ZM68.42 275.17H72.45V279.20H68.42ZM72.45 275.17H76.48V279.20H72.45ZM76.48 275.17H80.51V279.20H76.48ZM80.51 275.17H84.54V279.20H80.51ZM28.12 279.20H32.15V283.23H28.12ZM36.18 279.20H40.21V283.23H36.18ZM44.24 279.20H48.27V283.23H44.24ZM52.30 279.20H56.33V283.23H52.30ZM60.36 279.20H64.39V283.23H60.36ZM68.42 279.20H72.45V283.23H68.42ZM76.48 279.20H80.51V283.23H76.48ZM84.54 279.20H88.57V283.23H84.54ZM24.09 283.23H28.12V287.26H24.09ZM28.12 283.23H32.15V287.26H28.12ZM32.15 283.23H36.18V287.26H32.15ZM36.18 283.23H40.21V287.26H36.18ZM40.21 283.23H44.24V287.26H40.21ZM44.24 283.23H48.27V287.26H44.24ZM48.27 283.23H52.30V287.26H48.27ZM52.30 283.23H56.33V287.26H52.30ZM56.33 283.23H60.36V287.26H56.33ZM60.36 283.23H64.39V287.26H60.36ZM64.39 283.23H68.42V287.26H64.39ZM68.42 283.23H72.45V287.26H68.42ZM72.45 283.23H76.48V287.26H72.45ZM76.48 283.23H80.51V287.26H76.48ZM80.51 283.23H84.54V287.26H80.51ZM84.54 283.23H88.57V287.26H84.54ZM88.57 283.23H92.60V287.26H88.57ZM20.06 287.26H24.09V291.29H20.06ZM28.12 287.26H32.15V291.29H28.12ZM36.18 287.26H40.21V291.29H36.18ZM44.24 287.26H48.27V291.29H44.24ZM52.30 287.26H56.33V291.29H52.30ZM60.36 287.26H64.39V291.29H60.36ZM68.42 287.26H72.45V291.29H68.42ZM76.48 287.26H80.51V291.29H76.48ZM84.54 287.26H88.57V291.29H84.54ZM92.60 287.26H96.63V291.29H92.60ZM16.03 291.29H20.06V295.32H16.03ZM20.06 291.29H24.09V295.32H20.06ZM24.09 291.29H28.12V295.32H24.09ZM28.12 291.29H32.15V295.32H28.12ZM32.15 291.29H36.18V295.32H32.15ZM36.18 291.29H40.21V295.32H36.18ZM40.21 291.29H44.24V295.32H40.21ZM44.24 291.29H48.27V295.32H44.24ZM48.27 291.29H52.30V295.32H48.27ZM52.30 291.29H56.33V295.32H52.30ZM56.33 291.29H60.36V295.32H56.33ZM60.36 291.29H64.39V295.32H60.36ZM64.39 291.29H68.42V295.32H64.39ZM68.42 291.29H72.45V295.32H68.42ZM72.45 291.29H76.48V295.32H72.45ZM76.48 291.29H80.51V295.32H76.48ZM80.51 291.29H84.54V295.32H80.51ZM84.54 291.29H88.57V295.32H84.54ZM88.57 291.29H92.60V295.32H88.57ZM20.06 295.32H24.09V299.35H20.06ZM28.12 295.32H32.15V299.35H28.12ZM36.18 295.32H40.21V299.35H36.18ZM44.24 295.32H48.27V299.35H44.24ZM52.30 295.32H56.33V299.35H52.30ZM60.36 295.32H64.39V299.35H60.36ZM68.42 295.32H72.45V299.35H68.42ZM76.48 295.32H80.51V299.35H76.48ZM84.54 295.32H88.57V299.35H84.54ZM24.09 299.35H28.12V303.38H24.09ZM28.12 299.35H32.15V303.38H28.12ZM32.15 299.35H36.18V303.38H32.15ZM36.18 299.35H40.21V303.38H36.18ZM40.21 299.35H44.24V303.38H40.21ZM44.24 299.35H48.27V303.38H44.24ZM48.27 299.35H52.30V303.38H48.27ZM52.30 299.35H56.33V303.38H52.30ZM56.33 299.35H60.36V303.38H56.33ZM60.36 299.35H64.39V303.38H60.36ZM64.39 299.35H68.42V303.38H64.39ZM68.42 299.35H72.45V303.38H68.42ZM72.45 299.35H76.48V303.38H72.45ZM76.48 299.35H80.51V303.38H76.48ZM80.51 299.35H84.54V303.38H80.51ZM28.12 303.38H32.15V307.41H28.12ZM36.18 303.38H40.21V307.41H36.18ZM44.24 303.38H48.27V307.41H44.24ZM52.30 303.38H56.33V307.41H52.30ZM60.36 303.38H64.39V307.41H60.36ZM68.42 303.38H72.45V307.41H68.42ZM76.48 303.38H80.51V307.41H76.48ZM32.15 307.41H36.18V311.44H32.15ZM36.18 307.41H40.21V311.44H36.18ZM40.21 307.41H44.24V311.44H40.21ZM44.24 307.41H48.27V311.44H44.24ZM48.27 307.41H52.30V311.44H48.27ZM52.30 307.41H56.33V311.44H52.30ZM56.33 307.41H60.36V311.44H56.33ZM60.36 307.41H64.39V311.44H60.36ZM64.39 307.41H68.42V311.44H64.39ZM68.42 307.41H72.45V311.44H68.42ZM72.45 307.41H76.48V311.44H72.45ZM36.18 311.44H40.21V315.47H36.18ZM44.24 311.44H48.27V315.47H44.24ZM52.30 311.44H56.33V315.47H52.30ZM60.36 311.44H64.39V315.47H60.36ZM68.42 311.44H72.45V315.47H68.42ZM40.21 315.47H44.24V319.50H40.21ZM44.24 315.47H48.27V319.50H44.24ZM48.27 315.47H52.30V319.50H48.27ZM52.30 315.47H56.33V319.50H52.30ZM56.33 315.47H60.36V319.50H56.33ZM60.36 315.47H64.39V319.50H60.36ZM64.39 315.47H68.42V319.50H64.39ZM44.24 319.50H48.27V323.53H44.24ZM52.30 319.50H56.33V323.53H52.30ZM60.36 319.50H64.39V323.53H60.36ZM48.27 323.53H52.30V327.56H48.27ZM52.30 323.53H56.33V327.56H52.30ZM56.33 323.53H60.36V327.56H56.33ZM56.33 255.02H60.36V259.05H56.33ZM48.27 263.08H52.30V267.11H48.27ZM56.33 263.08H60.36V267.11H56.33ZM64.39 263.08H68.42V267.11H64.39ZM40.21 271.14H44.24V275.17H40.21ZM48.27 271.14H52.30V275.17H48.27ZM56.33 271.14H60.36V275.17H56.33ZM64.39 271.14H68.42V275.17H64.39ZM72.45 271.14H76.48V275.17H72.45ZM32.15 279.20H36.18V283.23H32.15ZM40.21 279.20H44.24V283.23H40.21ZM48.27 279.20H52.30V283.23H48.27ZM56.33 279.20H60.36V283.23H56.33ZM64.39 279.20H68.42V283.23H64.39ZM72.45 279.20H76.48V283.23H72.45ZM80.51 279.20H84.54V283.23H80.51ZM24.09 287.26H28.12V291.29H24.09ZM32.15 287.26H36.18V291.29H32.15ZM40.21 287.26H44.24V291.29H40.21ZM48.27 287.26H52.30V291.29H48.27ZM56.33 287.26H60.36V291.29H56.33ZM64.39 287.26H68.42V291.29H64.39ZM72.45 287.26H76.48V291.29H72.45ZM80.51 287.26H84.54V291.29H80.51ZM88.57 287.26H92.60V291.29H88.57ZM24.09 295.32H28.12V299.35H24.09ZM32.15 295.32H36.18V299.35H32.15ZM40.21 295.32H44.24V299.35H40.21ZM48.27 295.32H52.30V299.35H48.27ZM56.33 295.32H60.36V299.35H56.33ZM64.39 295.32H68.42V299.35H64.39ZM72.45 295.32H76.48V299.35H72.45ZM80.51 295.32H84.54V299.35H80.51ZM32.15 303.38H36.18V307.41H32.15ZM40.21 303.38H44.24V307.41H40.21ZM48.27 303.38H52.30V307.41H48.27ZM56.33 303.38H60.36V307.41H56.33ZM64.39 303.38H68.42V307.41H64.39ZM72.45 303.38H76.48V307.41H72.45ZM40.21 311.44H44.24V315.47H40.21ZM48.27 311.44H52.30V315.47H48.27ZM56.33 311.44H60.36V315.47H56.33ZM64.39 311.44H68.42V315.47H64.39ZM48.27 319.50H52.30V323.53H48.27ZM56.33 319.50H60.36V323.53H56.33ZM52.30 327.56H56.33V331.59H52.30ZM56.33 246.96H60.36V250.99H56.33ZM52.30 250.99H56.33V255.02H52.30ZM60.36 250.99H64.39V255.02H60.36ZM48.27 255.02H52.30V259.05H48.27ZM64.39 255.02H68.42V259.05H64.39ZM44.24 259.05H48.27V263.08H44.24ZM68.42 259.05H72.45V263.08H68.42ZM40.21 263.08H44.24V267.11H40.21ZM72.45 263.08H76.48V267.11H72.45ZM36.18 267.11H40.21V271.14H36.18ZM76.48 267.11H80.51V271.14H76.48ZM32.15 271.14H36.18V275.17H32.15ZM80.51 271.14H84.54V275.17H80.51ZM28.12 275.17H32.15V279.20H28.12ZM84.54 275.17H88.57V279.20H84.54ZM24.09 279.20H28.12V283.23H24.09ZM88.57 279.20H92.60V283.23H88.57ZM20.06 283.23H24.09V287.26H20.06ZM92.60 283.23H96.63V287.26H92.60ZM16.03 287.26H20.06V291.29H16.03ZM96.63 287.26H100.66V291.29H96.63ZM12.00 291.29H16.03V295.32H12.00ZM92.60 291.29H96.63V295.32H92.60ZM16.03 295.32H20.06V299.35H16.03ZM88.57 295.32H92.60V299.35H88.57ZM20.06 299.35H24.09V303.38H20.06ZM84.54 299.35H88.57V303.38H84.54ZM24.09 303.38H28.12V307.41H24.09ZM80.51 303.38H84.54V307.41H80.51ZM28.12 307.41H32.15V311.44H28.12ZM76.48 307.41H80.51V311.44H76.48ZM32.15 311.44H36.18V315.47H32.15ZM72.45 311.44H76.48V315.47H72.45ZM36.18 315.47H40.21V319.50H36.18ZM68.42 315.47H72.45V319.50H68.42ZM40.21 319.50H44.24V323.53H40.21ZM64.39 319.50H68.42V323.53H64.39ZM44.24 323.53H48.27V327.56H44.24ZM60.36 323.53H64.39V327.56H60.36ZM48.27 327.56H52.30V331.59H48.27ZM56.33 327.56H60.36V331.59H56.33ZM52.30 331.59H56.33V335.62H52.30Z"/>
<path fill="#9a6e28" d="M56.33 255.02H60.36V259.05H56.33ZM48.27 263.08H52.30V267.11H48.27ZM56.33 263.08H60.36V267.11H56.33ZM64.39 263.08H68.42V267.11H64.39ZM40.21 271.14H44.24V275.17H40.21ZM48.27 271.14H52.30V275.17H48.27ZM56.33 271.14H60.36V275.17H56.33ZM64.39 271.14H68.42V275.17H64.39ZM72.45 271.14H76.48V275.17H72.45ZM32.15 279.20H36.18V283.23H32.15ZM40.21 279.20H44.24V283.23H40.21ZM48.27 279.20H52.30V283.23H48.27ZM56.33 279.20H60.36V283.23H56.33ZM64.39 279.20H68.42V283.23H64.39ZM72.45 279.20H76.48V283.23H72.45ZM80.51 279.20H84.54V283.23H80.51ZM24.09 287.26H28.12V291.29H24.09ZM32.15 287.26H36.18V291.29H32.15ZM40.21 287.26H44.24V291.29H40.21ZM48.27 287.26H52.30V291.29H48.27ZM56.33 287.26H60.36V291.29H56.33ZM64.39 287.26H68.42V291.29H64.39ZM72.45 287.26H76.48V291.29H72.45ZM80.51 287.26H84.54V291.29H80.51ZM88.57 287.26H92.60V291.29H88.57ZM24.09 295.32H28.12V299.35H24.09ZM32.15 295.32H36.18V299.35H32.15ZM40.21 295.32H44.24V299.35H40.21ZM48.27 295.32H52.30V299.35H48.27ZM56.33 295.32H60.36V299.35H56.33ZM64.39 295.32H68.42V299.35H64.39ZM72.45 295.32H76.48V299.35H72.45ZM80.51 295.32H84.54V299.35H80.51ZM32.15 303.38H36.18V307.41H32.15ZM40.21 303.38H44.24V307.41H40.21ZM48.27 303.38H52.30V307.41H48.27ZM56.33 303.38H60.36V307.41H56.33ZM64.39 303.38H68.42V307.41H64.39ZM72.45 303.38H76.48V307.41H72.45ZM40.21 311.44H44.24V315.47H40.21ZM48.27 311.44H52.30V315.47H48.27ZM56.33 311.44H60.36V315.47H56.33ZM64.39 311.44H68.42V315.47H64.39ZM48.27 319.50H52.30V323.53H48.27ZM56.33 319.50H60.36V323.53H56.33ZM52.30 327.56H56.33V331.59H52.30Z"/>
<path fill="#e0241c" d="M185.29 122.03H189.32V126.06H185.29ZM189.32 126.06H193.35V130.09H189.32ZM193.35 130.09H197.38V134.12H193.35ZM197.38 134.12H201.41V138.15H197.38ZM201.41 138.15H205.44V142.18H201.41ZM205.44 142.18H209.47V146.21H205.44ZM209.47 146.21H213.50V150.24H209.47ZM213.50 150.24H217.53V154.27H213.50ZM217.53 154.27H221.56V158.30H217.53ZM221.56 158.30H225.59V162.33H221.56Z"/>
<path fill="#000" d="M185.29 118.00H189.32V122.03H185.29ZM181.26 122.03H185.29V126.06H181.26ZM189.32 122.03H193.35V126.06H189.32ZM177.23 126.06H181.26V130.09H177.23ZM193.35 126.06H197.38V130.09H193.35ZM173.20 130.09H177.23V134.12H173.20ZM197.38 130.09H201.41V134.12H197.38ZM169.17 134.12H173.20V138.15H169.17ZM201.41 134.12H205.44V138.15H201.41ZM165.14 138.15H169.17V142.18H165.14ZM205.44 138.15H209.47V142.18H205.44ZM161.11 142.18H165.14V146.21H161.11ZM209.47 142.18H213.50V146.21H209.47ZM157.08 146.21H161.11V150.24H157.08ZM213.50 146.21H217.53V150.24H213.50ZM153.05 150.24H157.08V154.27H153.05ZM217.53 150.24H221.56V154.27H217.53ZM149.02 154.27H153.05V158.30H149.02ZM221.56 154.27H225.59V158.30H221.56ZM144.99 158.30H149.02V162.33H144.99ZM225.59 158.30H229.62V162.33H225.59ZM140.96 162.33H144.99V166.36H140.96ZM221.56 162.33H225.59V166.36H221.56ZM136.93 166.36H140.96V170.39H136.93ZM217.53 166.36H221.56V170.39H217.53ZM132.90 170.39H136.93V174.42H132.90ZM213.50 170.39H217.53V174.42H213.50ZM128.87 174.42H132.90V178.45H128.87ZM209.47 174.42H213.50V178.45H209.47ZM124.84 178.45H128.87V182.48H124.84ZM205.44 178.45H209.47V182.48H205.44ZM120.81 182.48H124.84V186.51H120.81ZM201.41 182.48H205.44V186.51H201.41ZM116.78 186.51H120.81V190.54H116.78ZM197.38 186.51H201.41V190.54H197.38ZM112.75 190.54H116.78V194.57H112.75ZM193.35 190.54H197.38V194.57H193.35ZM108.72 194.57H112.75V198.60H108.72ZM189.32 194.57H193.35V198.60H189.32ZM104.69 198.60H108.72V202.63H104.69ZM185.29 198.60H189.32V202.63H185.29ZM100.66 202.63H104.69V206.66H100.66ZM181.26 202.63H185.29V206.66H181.26ZM96.63 206.66H100.66V210.69H96.63ZM177.23 206.66H181.26V210.69H177.23ZM92.60 210.69H96.63V214.72H92.60ZM173.20 210.69H177.23V214.72H173.20ZM88.57 214.72H92.60V218.75H88.57ZM169.17 214.72H173.20V218.75H169.17ZM84.54 218.75H88.57V222.78H84.54ZM165.14 218.75H169.17V222.78H165.14ZM80.51 222.78H84.54V226.81H80.51ZM161.11 222.78H165.14V226.81H161.11ZM76.48 226.81H80.51V230.84H76.48ZM157.08 226.81H161.11V230.84H157.08ZM72.45 230.84H76.48V234.87H72.45ZM153.05 230.84H157.08V234.87H153.05ZM68.42 234.87H72.45V238.90H68.42ZM149.02 234.87H153.05V238.90H149.02ZM64.39 238.90H68.42V242.93H64.39ZM144.99 238.90H149.02V242.93H144.99ZM60.36 242.93H64.39V246.96H60.36ZM140.96 242.93H144.99V246.96H140.96ZM56.33 246.96H60.36V250.99H56.33ZM136.93 246.96H140.96V250.99H136.93ZM52.30 250.99H56.33V255.02H52.30ZM60.36 250.99H64.39V255.02H60.36ZM132.90 250.99H136.93V255.02H132.90ZM48.27 255.02H52.30V259.05H48.27ZM64.39 255.02H68.42V259.05H64.39ZM128.87 255.02H132.90V259.05H128.87ZM44.24 259.05H48.27V263.08H44.24ZM68.42 259.05H72.45V263.08H68.42ZM124.84 259.05H128.87V263.08H124.84ZM40.21 263.08H44.24V267.11H40.21ZM72.45 263.08H76.48V267.11H72.45ZM120.81 263.08H124.84V267.11H120.81ZM36.18 267.11H40.21V271.14H36.18ZM76.48 267.11H80.51V271.14H76.48ZM116.78 267.11H120.81V271.14H116.78ZM32.15 271.14H36.18V275.17H32.15ZM80.51 271.14H84.54V275.17H80.51ZM112.75 271.14H116.78V275.17H112.75ZM28.12 275.17H32.15V279.20H28.12ZM84.54 275.17H88.57V279.20H84.54ZM108.72 275.17H112.75V279.20H108.72ZM24.09 279.20H28.12V283.23H24.09ZM88.57 279.20H92.60V283.23H88.57ZM104.69 279.20H108.72V283.23H104.69ZM20.06 283.23H24.09V287.26H20.06ZM92.60 283.23H96.63V287.26H92.60ZM100.66 283.23H104.69V287.26H100.66ZM16.03 287.26H20.06V291.29H16.03ZM96.63 287.26H100.66V291.29H96.63ZM12.00 291.29H16.03V295.32H12.00ZM92.60 291.29H96.63V295.32H92.60ZM16.03 295.32H20.06V299.35H16.03ZM88.57 295.32H92.60V299.35H88.57ZM20.06 299.35H24.09V303.38H20.06ZM84.54 299.35H88.57V303.38H84.54ZM24.09 303.38H28.12V307.41H24.09ZM80.51 303.38H84.54V307.41H80.51ZM28.12 307.41H32.15V311.44H28.12ZM76.48 307.41H80.51V311.44H76.48ZM32.15 311.44H36.18V315.47H32.15ZM72.45 311.44H76.48V315.47H72.45ZM36.18 315.47H40.21V319.50H36.18ZM68.42 315.47H72.45V319.50H68.42ZM40.21 319.50H44.24V323.53H40.21ZM64.39 319.50H68.42V323.53H64.39ZM44.24 323.53H48.27V327.56H44.24ZM60.36 323.53H64.39V327.56H60.36ZM48.27 327.56H52.30V331.59H48.27ZM56.33 327.56H60.36V331.59H56.33ZM52.30 331.59H56.33V335.62H52.30Z"/>
<g fill="none" stroke="#8a8a8a" stroke-width="2">
<path d="M222.3 240.8V438.9"/><path stroke-width="2.4" d="M221.3 437.7H952.8"/>
<polyline stroke-width="2.3" stroke-linejoin="round" points="222.4,296.8 246.7,367.3 271.1,353.2 295.4,339.1 319.8,353.2 344.1,395.5 368.4,282.7 392.8,325.0 417.1,325.0 441.5,353.2 465.8,381.4 490.1,282.7 514.5,325.0 538.8,339.1 563.2,240.4 587.5,296.8 611.8,339.1 636.2,367.3 660.5,339.1 684.9,325.0 709.2,353.2 733.5,296.8 757.9,282.7 782.2,381.4 806.6,381.4 830.9,367.3 855.2,296.8 879.6,367.3 903.9,254.5 928.3,353.2 952.6,282.7"/>
</g>
<g fill="#8a8a8a"><ellipse cx="222.4" cy="296.8" rx="4.3" ry="5.05"/><ellipse cx="246.7" cy="367.3" rx="4.3" ry="5.05"/><ellipse cx="271.1" cy="353.2" rx="4.3" ry="5.05"/><ellipse cx="295.4" cy="339.1" rx="4.3" ry="5.05"/><ellipse cx="319.8" cy="353.2" rx="4.3" ry="5.05"/><ellipse cx="344.1" cy="395.5" rx="4.3" ry="5.05"/><ellipse cx="368.4" cy="282.7" rx="4.3" ry="5.05"/><ellipse cx="392.8" cy="325.0" rx="4.3" ry="5.05"/><ellipse cx="417.1" cy="325.0" rx="4.3" ry="5.05"/><ellipse cx="441.5" cy="353.2" rx="4.3" ry="5.05"/><ellipse cx="465.8" cy="381.4" rx="4.3" ry="5.05"/><ellipse cx="490.1" cy="282.7" rx="4.3" ry="5.05"/><ellipse cx="514.5" cy="325.0" rx="4.3" ry="5.05"/><ellipse cx="538.8" cy="339.1" rx="4.3" ry="5.05"/><ellipse cx="563.2" cy="240.4" rx="4.3" ry="5.05"/><ellipse cx="587.5" cy="296.8" rx="4.3" ry="5.05"/><ellipse cx="611.8" cy="339.1" rx="4.3" ry="5.05"/><ellipse cx="636.2" cy="367.3" rx="4.3" ry="5.05"/><ellipse cx="660.5" cy="339.1" rx="4.3" ry="5.05"/><ellipse cx="684.9" cy="325.0" rx="4.3" ry="5.05"/><ellipse cx="709.2" cy="353.2" rx="4.3" ry="5.05"/><ellipse cx="733.5" cy="296.8" rx="4.3" ry="5.05"/><ellipse cx="757.9" cy="282.7" rx="4.3" ry="5.05"/><ellipse cx="782.2" cy="381.4" rx="4.3" ry="5.05"/><ellipse cx="806.6" cy="381.4" rx="4.3" ry="5.05"/><ellipse cx="830.9" cy="367.3" rx="4.3" ry="5.05"/><ellipse cx="855.2" cy="296.8" rx="4.3" ry="5.05"/><ellipse cx="879.6" cy="367.3" rx="4.3" ry="5.05"/><ellipse cx="903.9" cy="254.5" rx="4.3" ry="5.05"/><ellipse cx="928.3" cy="353.2" rx="4.3" ry="5.05"/><ellipse cx="952.6" cy="282.7" rx="4.3" ry="5.05"/></g>
<g class="lbl"><g style="font-size:11.1px"><text transform="translate(232.00,451.70) scale(1,1.19) rotate(-46) scale(1,1)" text-anchor="end">01.01</text><text transform="translate(280.68,451.70) scale(1,1.19) rotate(-46) scale(1,1)" text-anchor="end">03.01</text><text transform="translate(329.36,451.70) scale(1,1.19) rotate(-46) scale(1,1)" text-anchor="end">05.01</text><text transform="translate(378.04,451.70) scale(1,1.19) rotate(-46) scale(1,1)" text-anchor="end">07.01</text><text transform="translate(426.72,451.70) scale(1,1.19) rotate(-46) scale(1,1)" text-anchor="end">09.01</text><text transform="translate(474.44,452.89) scale(1,1.19) rotate(-46) scale(0.9,1)" text-anchor="end">11.01</text><text transform="translate(523.12,452.89) scale(1,1.19) rotate(-46) scale(0.9,1)" text-anchor="end">13.01</text><text transform="translate(571.80,452.89) scale(1,1.19) rotate(-46) scale(0.9,1)" text-anchor="end">15.01</text><text transform="translate(620.48,452.89) scale(1,1.19) rotate(-46) scale(0.9,1)" text-anchor="end">17.01</text><text transform="translate(669.16,452.89) scale(1,1.19) rotate(-46) scale(0.9,1)" text-anchor="end">19.01</text><text transform="translate(718.03,452.65) scale(1,1.19) rotate(-46) scale(0.92,1)" text-anchor="end">21.01</text><text transform="translate(767.48,451.70) scale(1,1.19) rotate(-46) scale(1,1)" text-anchor="end">23.01</text><text transform="translate(816.16,451.70) scale(1,1.19) rotate(-46) scale(1,1)" text-anchor="end">25.01</text><text transform="translate(864.84,451.70) scale(1,1.19) rotate(-46) scale(1,1)" text-anchor="end">27.01</text><text transform="translate(913.52,451.70) scale(1,1.19) rotate(-46) scale(1,1)" text-anchor="end">29.01</text><text transform="translate(961.24,452.89) scale(1,1.19) rotate(-46) scale(0.9,1)" text-anchor="end">31.01</text></g><text transform="translate(193.3,246.9) scale(0.86,1.175)">14</text><text transform="translate(193.3,289.2) scale(0.93,1.175)">10</text><text transform="translate(193.3,331.5) scale(1,1.175)">7</text><text transform="translate(193.3,374.1) scale(1,1.175)">5</text><text transform="translate(193.3,416.0) scale(1,1.175)">2</text></g>
</svg>
<div class="title">Трекер Куріння</div>
<div class="sub">Відстежуйте <span style="letter-spacing:-0.75px">своє</span> куріння та переглядайте <span style="letter-spacing:0.35px">щоденну,</span><br>щотижневу, щомісячну та річну статистику</div>
</body></html>
